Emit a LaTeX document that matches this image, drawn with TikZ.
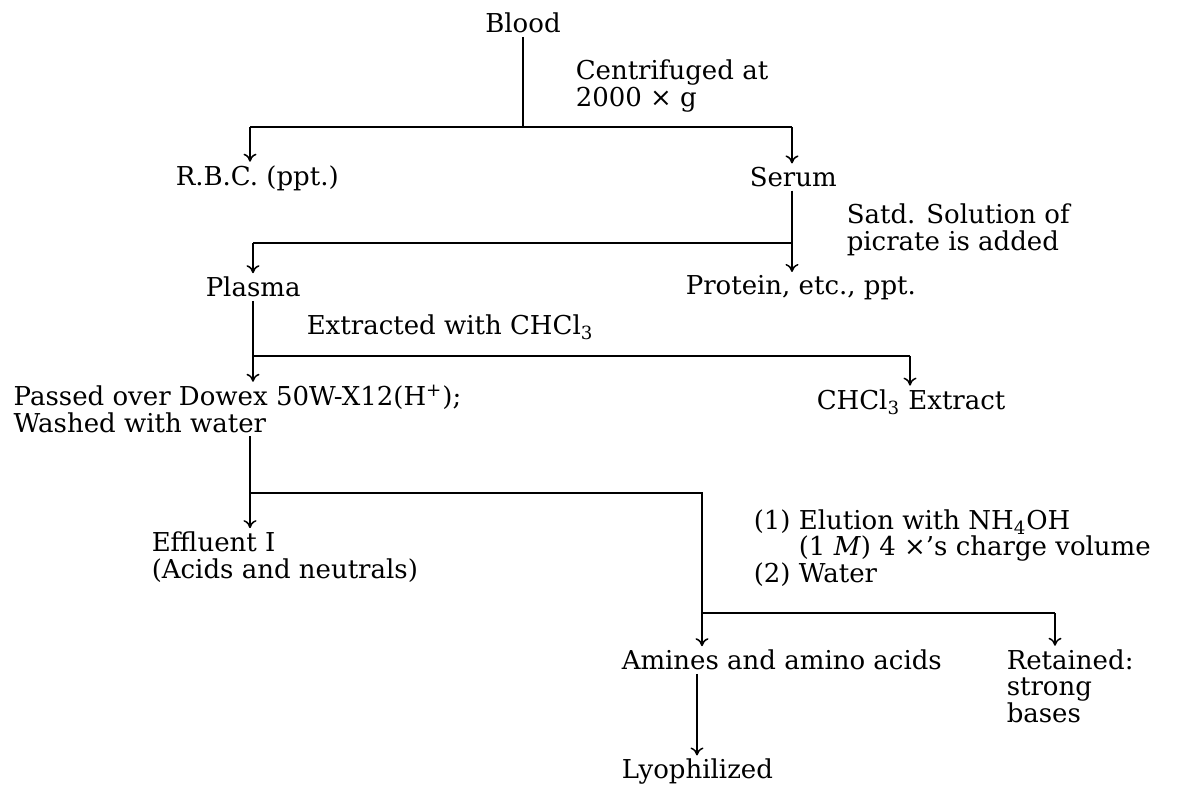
\documentclass[tikz,border=0pt]{standalone}
\usepackage{fontspec}
\setmainfont{DejaVu Serif}
\usepackage{tikz}
\usetikzlibrary{arrows,arrows.meta,positioning}

\begin{document}
\begin{tikzpicture}
		[x=0.5pt, y=-0.5pt, inner sep=1.5pt, line width=0.75pt, >={To[length=4pt,width=6.5pt]},
		entry/.style	= {font=\fontsize{13}{13.2}\selectfont, align=left},
		leftentry/.style	= {entry, anchor=west},
		remark/.style	= {entry, anchor=west}]
		
		\useasboundingbox (0,0) rectangle (1180,785);
		
		% products
		\node [entry]		at (523,23)		(blood)		{Blood};
		\node [leftentry]	at (172,178)	(rbc)		{R.B.C. (ppt.)};
		\node [leftentry]	at (746,177)	(serum)		{Serum};
		\node [leftentry]	at (202,287)	(plasma)	{Plasma};
		\node [leftentry]	at (682,288)	(protein)	{Protein, etc., ppt.};
		\node [leftentry]	at (10,409)		(passed)	{Passed over Dowex 50W-X12(H\textsuperscript{+});\\Washed with water};
		\node [leftentry]	at (813,402)	(chcl)		{CHCl\textsubscript{3} Extract};
		\node [leftentry]	at (148,557)	(effl)		{Effluent I\\(Acids and neutrals)};
		\node [leftentry]	at (618,660)	(amines)	{Amines and amino acids};
		\node [leftentry]	at (1003,686)	(retained)	{Retained:\\strong\\bases};
		\node [leftentry]	at (618,772)	(lyo)		{Lyophilized};
		
		% steps
		\node [remark]	at (572,86)		(centr)	{Centrifuged at\\2000 × g};
		\node [remark]	at (843,230)	(satd)	{Satd. Solution of\\picrate is added};
		\node [remark]	at (303,327)	(extr)	{Extracted with CHCl\textsubscript{3}};
		\node [remark]	at (750,548)	(elut)	{(1) Elution with NH\textsubscript{4}OH\\\phantom{(1) }(1 \textit{M}) 4 ×'s charge volume\\(2) Water};
		
		% branch points
		\coordinate (t1) at (250,127);
		\coordinate (t2) at (792,127);
		\coordinate (t3) at (253,243);
		\coordinate (t4) at (253,356);
		\coordinate (t5) at (910,356);
		\coordinate (t6) at (250,493);
		\coordinate (t7) at (702,493);
		\coordinate (t8) at (702,613);
		\coordinate (t9) at (1055,613);
		
		\draw (blood) -- (blood |- t1);
		\draw (t1) -- (t2);
		\draw [->] (t1) -- (t1 |- rbc.north);
		\draw [->] (t2) -- (t2 |- serum.north);
		
		\draw [->] (serum.south -| t2) -- (t2 |- protein.north);
		\draw (t3) -- (t3 -| t2);
		\draw [->] (t3) -- (t3 |- plasma.north);
		
		\draw [->] (plasma.south -| t4) -- (t4 |- passed.north);
		\draw (t4) -- (t5);
		\draw [->] (t5) -- (t5 |- chcl.north);
		
		\draw [->] (passed.south -| t6) -- (t6 |- effl.north);
		\draw (t6) -- (t7) -- (t8) -- (t9);
		\draw [->] (t8) -- (t8 |- amines.north);
		\draw [->] (t9) -- (t9 |- retained.north);
		
		\draw [->] (amines.south -| 697,0) -- (lyo.north -| 697,0);
		\end{tikzpicture}
\end{document}
